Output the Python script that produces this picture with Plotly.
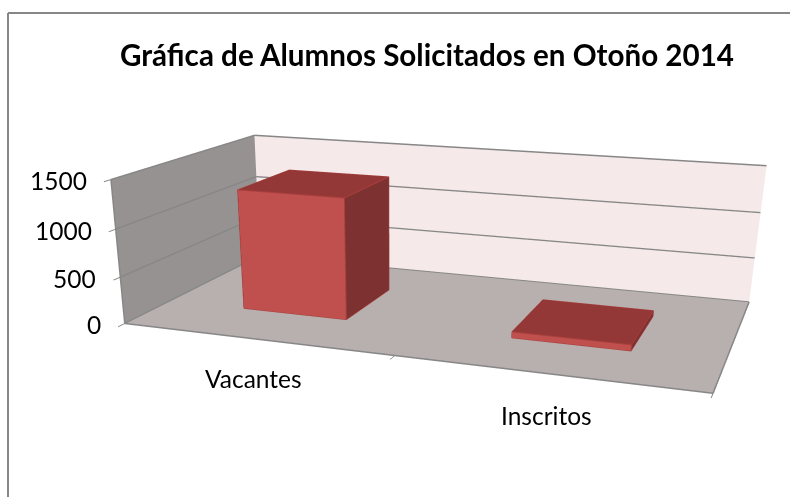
import plotly.graph_objects as go

# Data
categorias = ["Vacantes", "Inscritos"]
valores = [1290, 63]
ticks_z = [0, 500, 1000, 1500]
titulo = "Gráfica de Alumnos Solicitados en Otoño 2014"

# Layout / styles
W, H = 790, 1000            # taller page: its top 497 px are what the window shows
ANCHO = 0.40                # bar width in category units (gap 150 %)
FONDO_Y = (0.30, 0.70)      # bar depth on the unit depth axis
C_FRENTE, C_LADO, C_TOPE, C_BORDE = "#C0504D", "#7D3130", "#933836", "#A8403D"
GRIS = "#878787"
FUENTE = "Lato"
XMAX, ZMAX = len(categorias), ticks_z[-1]

fig = go.Figure()


def linea(x, y, z, color=GRIS, width=3):
    fig.add_trace(go.Scatter3d(x=x, y=y, z=z, mode="lines", line=dict(color=color, width=width),
                               hoverinfo="skip", showlegend=False))


# Wall gridlines and frame of the plot box
for t in ticks_z[1:]:
    linea([0, 0, XMAX], [0, 1, 1], [t, t, t])
linea([0, XMAX, XMAX], [0, 0, 1], [0, 0, 0])
linea([0, 0, 0, 0], [1, 0, 0, 1], [ZMAX, ZMAX, 0, 0])
linea([0, XMAX], [1, 1], [0, 0], width=2)

for i, v in enumerate(valores):
    x0, x1 = i + 0.5 - ANCHO / 2, i + 0.5 + ANCHO / 2
    y0, y1 = FONDO_Y
    vx = [x0, x1, x1, x0, x0, x1, x1, x0]
    vy = [y0, y0, y1, y1, y0, y0, y1, y1]
    vz = [0, 0, 0, 0, v, v, v, v]
    I = [0, 0, 1, 1, 4, 4, 0, 0, 3, 3, 2, 2]
    J = [1, 5, 2, 6, 5, 6, 3, 7, 2, 6, 1, 0]
    K = [5, 4, 6, 5, 6, 7, 7, 4, 6, 7, 0, 3]
    cols = [C_FRENTE, C_FRENTE, C_LADO, C_LADO, C_TOPE, C_TOPE, C_LADO, C_LADO, C_LADO, C_LADO, C_LADO, C_LADO]
    fig.add_trace(go.Mesh3d(x=vx, y=vy, z=vz, i=I, j=J, k=K, facecolor=cols, flatshading=True,
                            lighting=dict(ambient=1, diffuse=0, specular=0, roughness=1, fresnel=0),
                            hoverinfo="skip", showscale=False))
    # visible edges of the bar
    linea([x0, x1, x1, x0, x0, None, x1, x1, x1, None, x0, x0, x1, x1, None, x1, x1],
          [y0, y0, y0, y0, y0, None, y0, y1, y1, None, y0, y1, y1, y0, None, y1, y1],
          [0, 0, v, v, 0, None, 0, 0, v, None, v, v, v, v, None, v, v], color=C_BORDE, width=2)

eje = dict(title="", showspikes=False, showline=False, zeroline=False, showgrid=False,
           tickcolor=GRIS, tickwidth=2)
etiquetas_x = [
    dict(x=i + 0.5, y=0, z=0, text=c, xanchor="center", xshift=dx, yshift=dy)
    for i, (c, dx, dy) in enumerate(zip(categorias, (-1, -1), (-40, -42)))
]
etiquetas_z = [dict(x=0, y=0, z=t, text=str(t), xanchor="right", xshift=-22, yshift=-1) for t in ticks_z]
fig.update_layout(
    width=W, height=H, margin=dict(l=0, r=0, t=0, b=0), paper_bgcolor="white",
    showlegend=False, hovermode=False, dragmode=False,
    font=dict(family=FUENTE, color="#000000"),
    title=dict(text="<b>" + titulo + "</b>", x=427 / W, xanchor="center", xref="paper",
               y=1 - 56 / H, yanchor="middle", yref="container",
               font=dict(family=FUENTE, size=29.6, color="#000000")),
    shapes=[
        dict(type="line", xref="paper", yref="paper", x0=8 / W, x1=1, y0=1 - 13 / H, y1=1 - 13 / H,
             line=dict(color=GRIS, width=2)),
        dict(type="line", xref="paper", yref="paper", x0=8 / W, x1=8 / W, y0=1 - 13 / H, y1=0,
             line=dict(color=GRIS, width=2)),
    ],
    scene=dict(
        domain=dict(x=[0, 1], y=[0, 1]), aspectmode="manual",
        aspectratio=dict(x=1, y=0.5268, z=0.245),
        camera=dict(eye=dict(x=0.6476, y=-1.9983, z=0.4846),
                    center=dict(x=-0.0808, y=-0.0449, z=-0.4865),
                    up=dict(x=-0.0016, y=0, z=1),
                    projection=dict(type="perspective")),
        xaxis=dict(eje, range=[0, XMAX], tickvals=[0, 1, 2], showticklabels=False, ticks="outside", ticklen=18,
                   backgroundcolor="#979292", showbackground=True),
        yaxis=dict(eje, range=[0, 1], tickvals=[], showticklabels=False, ticks="",
                   backgroundcolor="#F5E9E9", showbackground=True),
        zaxis=dict(eje, range=[0, ZMAX], tickvals=ticks_z, showticklabels=False, ticks="outside", ticklen=14,
                   backgroundcolor="#B8AFAF", showbackground=True),
        annotations=[
            dict(a, showarrow=False, yanchor="middle", font=dict(family=FUENTE, size=s, color="#000000"))
            for grupo, s in ((etiquetas_x, 24.5), (etiquetas_z, 24.5)) for a in grupo
        ],
    ),
)
fig.write_html("out.html", config=dict(displayModeBar=False),
               post_script="document.body.style.margin='0';document.documentElement.style.overflow='hidden';")
